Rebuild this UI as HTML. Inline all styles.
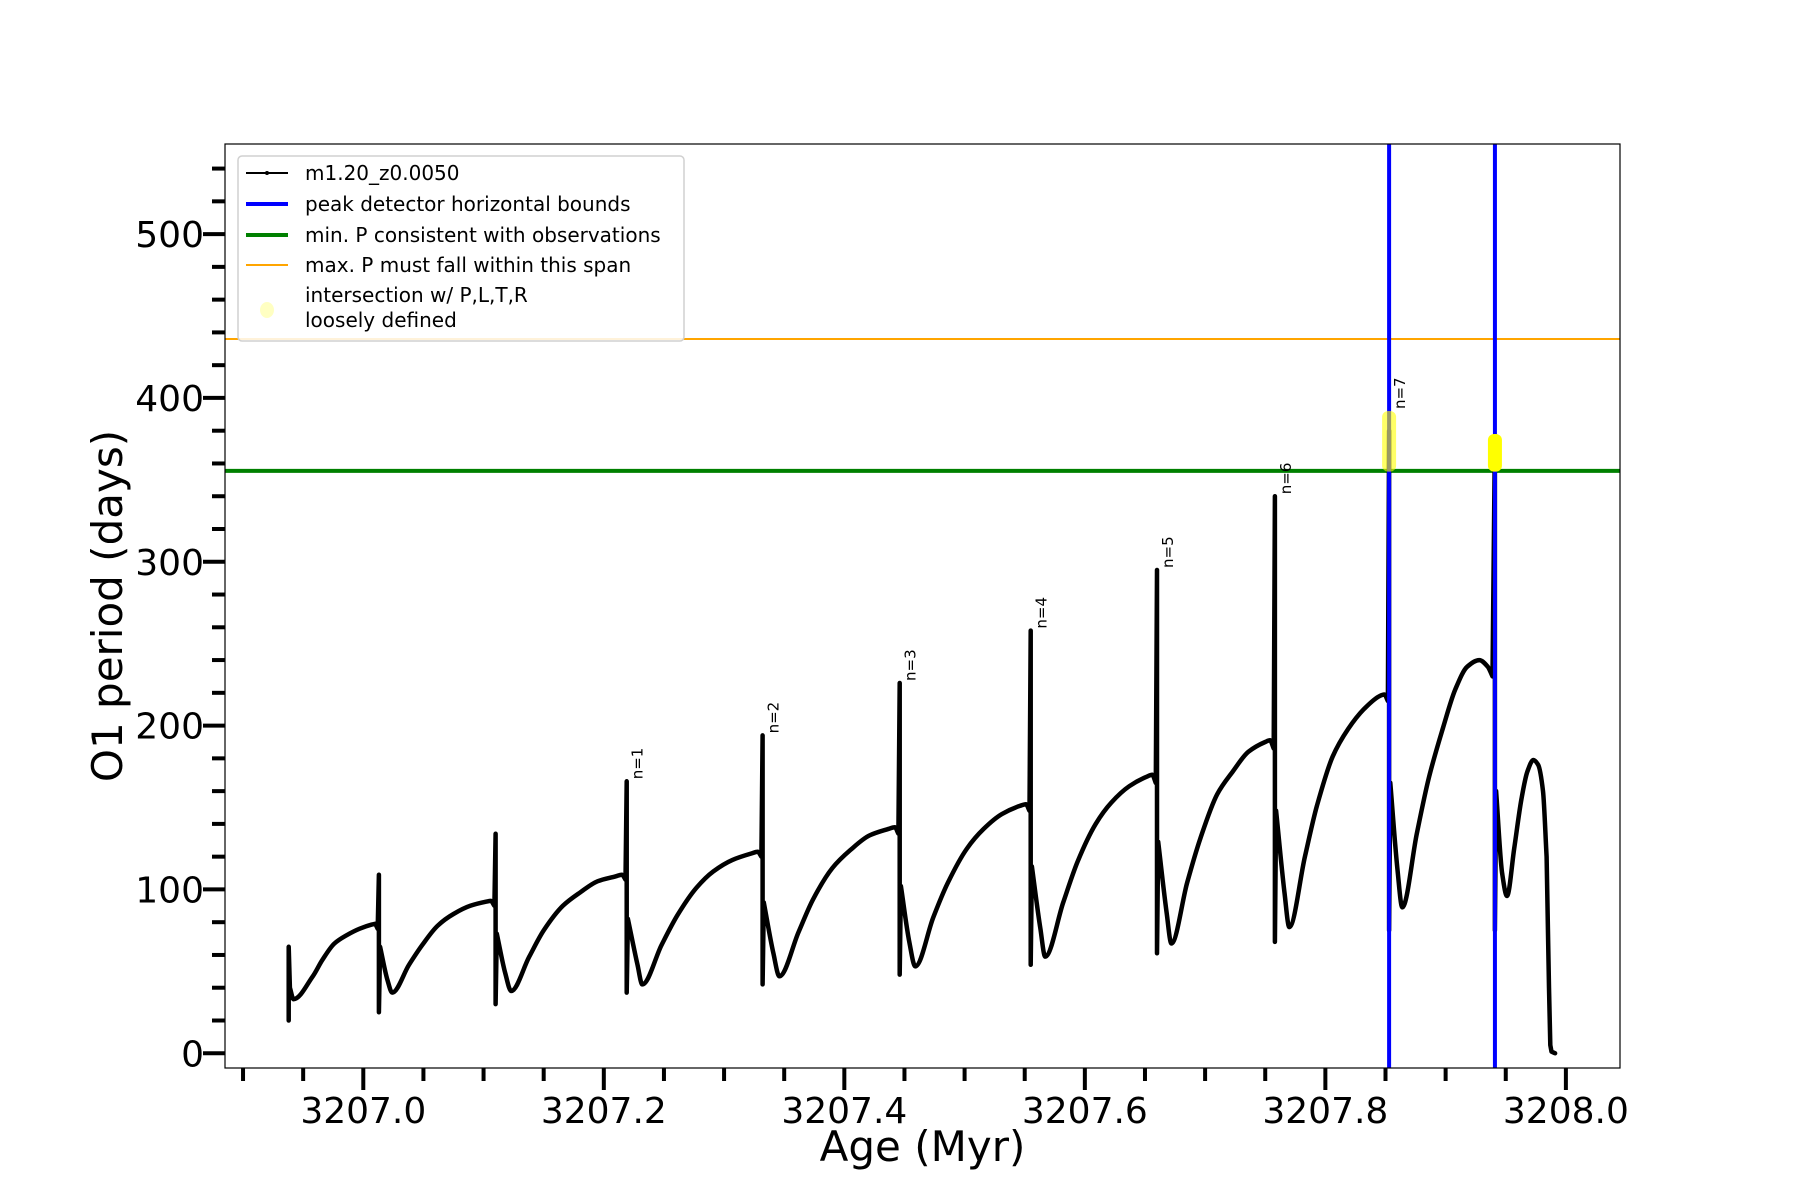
<!DOCTYPE html>
<html><head><meta charset="utf-8"><style>
html,body{margin:0;padding:0;background:#fff}
svg{display:block}
text{font-family:"DejaVu Sans","Liberation Sans",sans-serif}
</style></head><body>
<svg id="chart" width="1800" height="1200" viewBox="0 0 1800 1200" xmlns="http://www.w3.org/2000/svg">
<rect width="1800" height="1200" fill="#fff"/>
<g id="plot"></g>
</svg>
<script>
const ages=[3206.938,3206.938,3206.938,3206.939,3206.942,3206.958,3206.966,3206.976,3206.986,3206.997,3207.007,3207.010,3207.012,
3207.013,3207.013,3207.014,3207.020,3207.024,3207.038,3207.049,3207.062,3207.075,3207.089,3207.102,3207.106,3207.109,
3207.110,3207.110,3207.111,3207.118,3207.123,3207.138,3207.150,3207.166,3207.180,3207.195,3207.210,3207.215,3207.218,
3207.219,3207.219,3207.220,3207.228,3207.232,3207.248,3207.261,3207.277,3207.291,3207.307,3207.323,3207.328,3207.331,
3207.332,3207.332,3207.333,3207.341,3207.346,3207.362,3207.374,3207.390,3207.405,3207.421,3207.437,3207.442,3207.445,
3207.446,3207.446,3207.447,3207.454,3207.459,3207.474,3207.486,3207.502,3207.516,3207.531,3207.546,3207.551,3207.554,
3207.555,3207.555,3207.556,3207.563,3207.567,3207.582,3207.594,3207.609,3207.622,3207.637,3207.652,3207.656,3207.659,
3207.660,3207.660,3207.661,3207.668,3207.672,3207.685,3207.696,3207.710,3207.723,3207.736,3207.750,3207.754,3207.757,
3207.758,3207.758,3207.759,3207.766,3207.770,3207.783,3207.793,3207.806,3207.819,3207.832,3207.845,3207.849,3207.852,
3207.853,3207.853,3207.854,3207.860,3207.864,3207.876,3207.886,3207.898,3207.908,3207.918,3207.928,3207.935,3207.939,
3207.941,3207.941,3207.942,3207.947,3207.951,3207.957,3207.963,3207.968,3207.973,3207.977,3207.981,3207.984,3207.986,3207.987,3207.988,3207.991];
const periods=[48,20,65,40,33,47,57,67,72,76,78.5,79,76,
109,25,65,45,37,54,66,78,85,90,92.5,93,90,
134,30,73,49,38,59,75,90,98,105,108,109,106,
166,37,82,54,42,66,84,101,111,118,122,123,120,
194,42,92,61,47,74,94,113,124,133,137,138,134,
226,48,102,68,53,83,104,125,137,146,151,152,148,
258,54,114,76,59,92,117,140,153,163,169,170,165,
295,61,129,86,67,104,131,158,172,184,190,191,186,
340,68,148,98,77,120,151,181,198,210,218,219,215,
380,75,165,112,89,134,168,199,222,236,240,236,230,
375,75,160,110,96,125,155,172,179,176,160,120,40,5,1,0];
const peakAges=[3207.219,3207.332,3207.446,3207.555,3207.660,3207.758,3207.853];
const peakVals=[166,194,226,258,295,340,392];
const peakLabels=["n=1","n=2","n=3","n=4","n=5","n=6","n=7"];
const boundAges=[3207.853,3207.941];
const minP=[355.5];
const maxP=[436];
const yellowLo=[355,355];
const yellowHi=[392,378];
const xTicks=[3207.0,3207.2,3207.4,3207.6,3207.8,3208.0];
const xTickLabels=["3207.0","3207.2","3207.4","3207.6","3207.8","3208.0"];
const yTicks=[0,100,200,300,400,500];
const yTickLabels=["0","100","200","300","400","500"];

const L=225,R=1620,T=144,B=1068;
const X0=3206.885,X1=3208.045,Y0=-9,Y1=555;
const sx=v=>L+(v-X0)/(X1-X0)*(R-L);
const sy=v=>B-(v-Y0)/(Y1-Y0)*(B-T);
const NS="http://www.w3.org/2000/svg";
const g=document.getElementById('plot');
function mk(tag,attrs,parent){const e=document.createElementNS(NS,tag);for(const k in attrs)e.setAttribute(k,attrs[k]);(parent||g).appendChild(e);return e;}

const defs=mk('defs',{});
const cp=mk('clipPath',{id:'clip'},defs);mk('rect',{x:L,y:T,width:R-L,height:B-T},cp);
const inner=mk('g',{'clip-path':'url(#clip)'});

const ol=mk('line',{x1:L,x2:R,y1:sy(maxP[0]),y2:sy(maxP[0]),stroke:'#ffa500','stroke-width':2},inner);


const gl=mk('line',{x1:L,x2:R,y1:sy(minP[0]),y2:sy(minP[0]),stroke:'#008000','stroke-width':4},inner);



const P=ages.map((a,i)=>[sx(a),sy(periods[i])]);
const n=P.length;
const wide=[],sl=[];
for(let i=0;i<n-1;i++){const dx=P[i+1][0]-P[i][0];wide.push(dx>=2.5);sl.push(dx>0?(P[i+1][1]-P[i][1])/dx:0);}
const m=[];
for(let i=0;i<n;i++){
 const lw=i>0&&wide[i-1],rw=i<n-1&&wide[i];
 if(lw&&rw){const a=sl[i-1],b=sl[i];m.push(a*b<=0?0:2*a*b/(a+b));}
 else if(lw)m.push(sl[i-1]);else if(rw)m.push(sl[i]);else m.push(0);
}
let d='M'+P[0][0].toFixed(1)+','+P[0][1].toFixed(1);
for(let i=0;i<n-1;i++){
 const [x0,y0]=P[i],[x1,y1]=P[i+1];
 if(!wide[i]){d+='L'+x1.toFixed(1)+','+y1.toFixed(1);continue;}
 const h=(x1-x0)/3;
 d+='C'+(x0+h).toFixed(1)+','+(y0+m[i]*h).toFixed(1)+' '+(x1-h).toFixed(1)+','+(y1-m[i+1]*h).toFixed(1)+' '+x1.toFixed(1)+','+y1.toFixed(1);
}
const cv=mk('path',{d:d,fill:'none',stroke:'#000','stroke-width':4.5,'stroke-linejoin':'round','stroke-linecap':'round'},inner);



boundAges.forEach((a,i)=>{
 const b=mk('line',{x1:sx(a),x2:sx(a),y1:T,y2:B,stroke:'#0000ff','stroke-width':4},inner);
 
 
});
boundAges.forEach((a,i)=>{
 const y=mk('rect',{x:sx(a)-7,y:sy(yellowHi[i]),width:14,height:sy(yellowLo[i])-sy(yellowHi[i]),rx:6,fill:'#ffff00','fill-opacity':i==0?0.6:1},inner);
 
 
});
peakAges.forEach((a,i)=>{
 const x=sx(a)+16,y=sy(peakVals[i])-2;
 const t=mk('text',{x:x,y:y,transform:`rotate(-90 ${x} ${y})`,'font-size':15,fill:'#000'},inner);
 t.textContent=peakLabels[i];
 
 
});

const fr=mk('rect',{x:L,y:T,width:R-L,height:B-T,fill:'none',stroke:'#000','stroke-width':1.2});



for(let v=3206.9;v<=X1+1e-9;v+=0.05){
 const maj=xTicks.some(t=>Math.abs(t-v)<1e-6);
 const x=sx(v);
 mk('line',{x1:x,x2:x,y1:B,y2:B+(maj?22:13),stroke:'#000','stroke-width':4});
}
xTicks.forEach((v,i)=>{
 const t=mk('text',{x:sx(v),y:B+55,'font-size':36,'text-anchor':'middle'});
 t.textContent=xTickLabels[i];
 
 
});
for(let v=0;v<=Y1;v+=20){
 const maj=yTicks.includes(v);
 const y=sy(v);
 mk('line',{x1:L,x2:L-(maj?22:13),y1:y,y2:y,stroke:'#000','stroke-width':4});
}
yTicks.forEach((v,i)=>{
 const t=mk('text',{x:L-21,y:sy(v)+13,'font-size':36,'text-anchor':'end'});
 t.textContent=yTickLabels[i];
 
 
});
const xl=mk('text',{x:(L+R)/2,y:1161,'font-size':42,'text-anchor':'middle'});
xl.textContent='Age (Myr)';


const yx=122,yy=(T+B)/2;
const yl=mk('text',{x:yx,y:yy,'font-size':42,'text-anchor':'middle',transform:`rotate(-90 ${yx} ${yy})`});
yl.textContent='O1 period (days)';



const lg=mk('g',{});


mk('rect',{x:238,y:156,width:446,height:185,rx:4,fill:'#fff','fill-opacity':0.85,stroke:'#d0d0d0','stroke-width':1.5},lg);
const items=[['m1.20_z0.0050','#000',2,173],['peak detector horizontal bounds','#0000ff',4,204],['min. P consistent with observations','#008000',4,235],['max. P must fall within this span','#ffa500',2,265]];
items.forEach((it,i)=>{
 mk('line',{x1:246,x2:288,y1:it[3],y2:it[3],stroke:it[1],'stroke-width':it[2]},lg);
 const t=mk('text',{x:305,y:it[3]+7,'font-size':20},lg);
 t.textContent=it[0];
 
 
});
mk('circle',{cx:267,cy:173,r:2,fill:'#000'},lg);
mk('ellipse',{cx:267,cy:310,rx:7,ry:8,fill:'#ffff99','fill-opacity':0.6},lg);
const t1=mk('text',{x:305,y:302,'font-size':20},lg);t1.textContent='intersection w/ P,L,T,R';


const t2=mk('text',{x:305,y:327,'font-size':20},lg);t2.textContent='loosely defined';


</script>
</body></html>
